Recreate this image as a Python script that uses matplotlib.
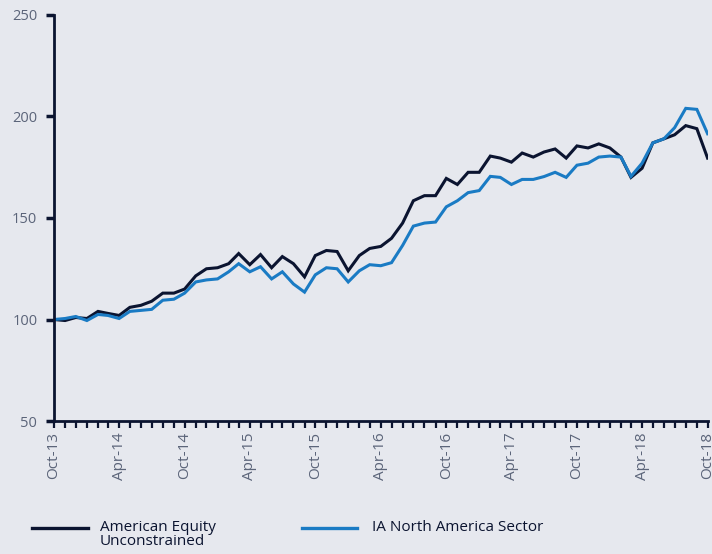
import matplotlib

matplotlib.use("Agg")
import matplotlib.dates as mdates
import matplotlib.pyplot as plt
import pandas as pd
from matplotlib.lines import Line2D

# Monthly cumulative performance, rebased to 100 at Oct 2013
months = pd.date_range("2013-10-01", "2018-10-01", freq="MS")

fund = [
    100, 99.5, 101, 100.5, 104, 103, 102, 106, 107, 109, 113, 113,
    115, 121.5, 125, 125.5, 127.5, 132.5, 127, 132, 125.5, 131, 127.5, 121,
    131.5, 134, 133.5, 124, 131.5, 135, 136, 140, 147.5, 158.5, 161, 161,
    169.5, 166.5, 172.5, 172.5, 180.5, 179.5, 177.5, 182, 180, 182.5, 184, 179.5,
    185.5, 184.5, 186.5, 184.5, 180, 170, 174.5, 187, 189, 191, 195.5, 194,
    179.5,
]
sector = [
    100, 100.5, 101.5, 99.5, 102.5, 102, 100.5, 104, 104.5, 105, 109.5, 110,
    113, 118.5, 119.5, 120, 123.5, 127.5, 123.5, 126, 120, 123.5, 117.5, 113.5,
    122, 125.5, 125, 118.5, 124, 127, 126.5, 128, 136.5, 146, 147.5, 148,
    155.5, 158.5, 162.5, 163.5, 170.5, 170, 166.5, 169, 169, 170.4, 172.5, 170,
    176, 177, 180, 180.5, 180, 170.5, 177, 187, 189, 194.5, 204, 203.5,
    191.5,
]

fund_label = "American Equity\nUnconstrained"
sector_label = "IA North America Sector"

BG = "#e6e8ee"
NAVY = "#0b1430"
BLUE = "#1a7bc4"
TICK_GREY = "#5b6479"

plt.rcParams["font.family"] = ["Open Sans", "DejaVu Sans"]

fig = plt.figure(figsize=(7.12, 5.54), dpi=100, facecolor=BG)
ax = fig.add_axes([0.0758, 0.240, 0.918, 0.733], facecolor=BG)

ax.plot(months, fund, color=NAVY, lw=2.2, solid_joinstyle="miter")
ax.plot(months, sector, color=BLUE, lw=2.2, solid_joinstyle="miter")

ax.set_xlim(months[0], months[-1])
ax.set_ylim(50, 250)
ax.set_yticks([50, 100, 150, 200, 250])

ax.xaxis.set_major_locator(mdates.MonthLocator(bymonth=[4, 10]))
ax.xaxis.set_major_formatter(mdates.DateFormatter("%b-%y"))
ax.xaxis.set_minor_locator(mdates.MonthLocator())

for side in ("top", "right"):
    ax.spines[side].set_visible(False)
for side in ("left", "bottom"):
    ax.spines[side].set_color(NAVY)
    ax.spines[side].set_linewidth(2)

ax.tick_params(axis="x", which="both", direction="out", length=5, width=1.6,
               color=NAVY, labelcolor=TICK_GREY, labelsize=11, rotation=90, pad=3)
ax.tick_params(axis="y", direction="out", length=6, width=2.5, color=NAVY,
               labelcolor=TICK_GREY, labelsize=10.5, pad=6)

# Legend drawn by hand so the key lines sit level with the first text row
fig.lines.append(Line2D([32 / 712, 88 / 712], [1 - 528 / 554] * 2,
                        transform=fig.transFigure, color=NAVY, lw=2.4))
fig.text(100 / 712, 1 - 520 / 554, fund_label, ha="left", va="top",
         fontsize=11, color=NAVY, linespacing=0.92)
fig.lines.append(Line2D([302 / 712, 357 / 712], [1 - 528 / 554] * 2,
                        transform=fig.transFigure, color=BLUE, lw=2.4))
fig.text(372 / 712, 1 - 520 / 554, sector_label, ha="left", va="top",
         fontsize=11, color=NAVY)

fig.savefig("out.png", dpi=100, facecolor=BG)
